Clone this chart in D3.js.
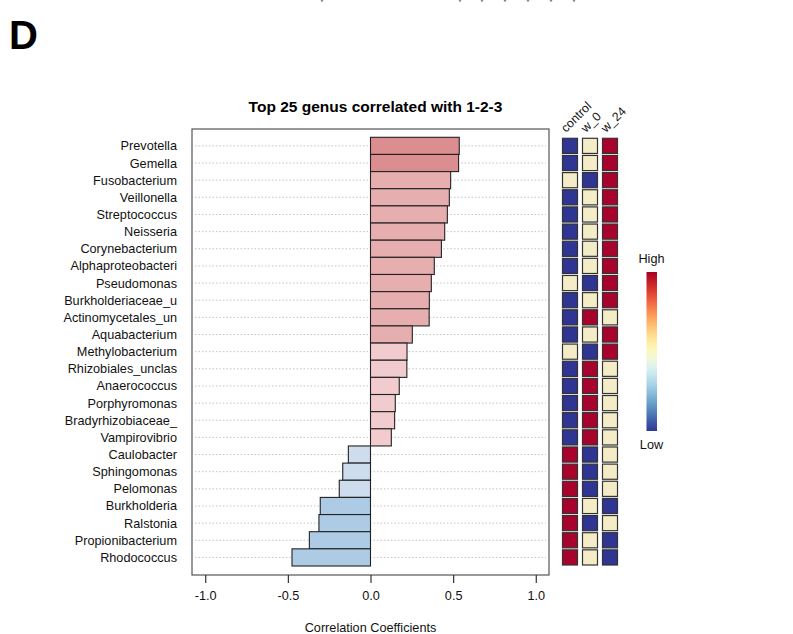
<!DOCTYPE html>
<html><head><meta charset="utf-8">
<script src="https://cdn.jsdelivr.net/npm/d3@7"></script>
<style>body{margin:0;background:#fff;} svg{display:block;font-family:"Liberation Sans",Arial,sans-serif;}</style>
</head><body>
<svg id="c" width="793" height="634"></svg>
<script>
const genera = ["Prevotella","Gemella","Fusobacterium","Veillonella","Streptococcus","Neisseria","Corynebacterium","Alphaproteobacteri","Pseudomonas","Burkholderiaceae_u","Actinomycetales_un","Aquabacterium","Methylobacterium","Rhizobiales_unclas","Anaerococcus","Porphyromonas","Bradyrhizobiaceae_","Vampirovibrio","Caulobacter","Sphingomonas","Pelomonas","Burkholderia","Ralstonia","Propionibacterium","Rhodococcus"];
const correlations = [0.537,0.533,0.485,0.477,0.465,0.449,0.429,0.386,0.368,0.356,0.355,0.253,0.221,0.220,0.174,0.150,0.146,0.126,-0.134,-0.168,-0.189,-0.304,-0.312,-0.370,-0.475];
const groups = ["control","w_0","w_24"];
// 0 = low, 1 = mid, 2 = high
const control = [0,0,1,0,0,0,0,0,1,0,0,0,1,0,0,0,0,0,2,2,2,2,2,2,2];
const w_0     = [1,1,0,1,1,1,1,1,0,1,2,1,0,2,2,2,2,2,0,0,0,1,0,1,1];
const w_24    = [2,2,2,2,2,2,2,2,2,2,1,2,2,1,1,1,1,1,1,1,1,0,1,0,0];
const xTicks = [-1.0,-0.5,0.0,0.5,1.0];
const titleText = "Top 25 genus correlated with 1-2-3";
const xTitle = "Correlation Coefficients";

const svg = d3.select("#c");
const box = {l:192, r:549, t:129, b:575};
const x = d3.scaleLinear().domain([-1.08,1.08]).range([box.l, box.r]);
const y = d3.scaleBand().domain(genera).range([137.3, 566]).padding(0);
const FS = 12.7;

// panel letter
svg.append("text").attr("x",9).attr("y",49).attr("font-size",40).attr("font-weight","bold").text("D");

// clipped fragments of previous panel at top
const frag = [322,460,482,505,528,551,574];
svg.selectAll("circle.frag").data(frag).enter().append("circle")
  .attr("cx",d=>d).attr("cy",0.5).attr("r",1.2).attr("fill","#888");

// title
svg.append("text").attr("x",375.5).attr("y",112).attr("text-anchor","middle")
  .attr("font-size",15.5).attr("font-weight","bold").text(titleText);

// grid lines
svg.append("g").selectAll("line").data(genera).enter().append("line")
  .attr("x1",box.l+3).attr("x2",box.r-3)
  .attr("y1",d=>y(d)+y.bandwidth()/2).attr("y2",d=>y(d)+y.bandwidth()/2)
  .attr("stroke","#c4c4c4").attr("stroke-width",1).attr("stroke-dasharray","1.5,2");

function barColor(v){
  if (v>=0.5) return "#db8d90";
  if (v>=0.25) return "#e7aeb0";
  if (v>=0) return "#f1cbcd";
  if (v>=-0.25) return "#cdddee";
  return "#adcbe5";
}
const data = genera.map((g,i)=>({g, v:correlations[i]}));
svg.append("g").selectAll("rect").data(data).enter().append("rect")
  .attr("x",d=>x(Math.min(0,d.v))).attr("width",d=>Math.abs(x(d.v)-x(0)))
  .attr("y",d=>y(d.g)).attr("height",y.bandwidth())
  .attr("fill",d=>barColor(d.v)).attr("stroke","#222").attr("stroke-width",1.1);

// box
svg.append("rect").attr("x",box.l).attr("y",box.t).attr("width",box.r-box.l).attr("height",box.b-box.t)
  .attr("fill","none").attr("stroke","#555").attr("stroke-width",1.2);

// labels
svg.append("g").selectAll("text").data(genera).enter().append("text")
  .attr("x",177).attr("y",d=>y(d)+y.bandwidth()/2+4.5).attr("text-anchor","end")
  .attr("font-size",FS).attr("fill","#111").text(d=>d);

// x axis
const ax = svg.append("g").attr("transform",`translate(0,${box.b})`)
  .call(d3.axisBottom(x).tickValues(xTicks).tickSize(8).tickPadding(8));
ax.select(".domain").remove();
ax.selectAll("line").attr("stroke","#333").attr("stroke-width",1.2);
ax.selectAll("text").attr("font-size",FS).attr("fill","#111").attr("font-family","Liberation Sans, Arial, sans-serif")
  .text(d=>d3.format(".1f")(d).replace("\u2212","-"));
svg.append("text").attr("x",370.5).attr("y",632).attr("text-anchor","middle").attr("font-size",FS).attr("fill","#111").text(xTitle);

// heatmap
const hx = d3.scaleBand().domain(groups).range([560.5, 619.5]).paddingInner(0.25).paddingOuter(0.1);
const hcol = ["#2e3592","#f4ecc6","#a8032c"];
const cellPad = 1;
const hg = svg.append("g");
groups.forEach((gr,j)=>{
  const vals = [control,w_0,w_24][j];
  hg.selectAll("rect.c"+j).data(genera).enter().append("rect")
    .attr("x",hx(gr)).attr("width",hx.bandwidth())
    .attr("y",(d)=>y(d)+cellPad).attr("height",y.bandwidth()-2*cellPad)
    .attr("fill",(d,i)=>hcol[vals[i]]).attr("stroke","#333").attr("stroke-width",1.2);
  svg.append("text").attr("transform",`translate(${hx(gr)+hx.bandwidth()/2-4},${133}) rotate(-45)`)
    .attr("font-size",12.3).attr("fill","#111").text(gr);
});

// legend gradient
const defs = svg.append("defs");
const grad = defs.append("linearGradient").attr("id","lg").attr("x1",0).attr("y1",1).attr("x2",0).attr("y2",0);
d3.range(0,1.0001,0.05).forEach(t=>grad.append("stop").attr("offset",t).attr("stop-color",d3.interpolateRdYlBu(1-t)));
const ly = d3.scaleLinear().domain([0,1]).range([431,272]);
svg.append("rect").attr("x",646.5).attr("y",ly(1)).attr("width",10.5).attr("height",ly(0)-ly(1)).attr("fill","url(#lg)");
svg.append("text").attr("x",651.5).attr("y",263).attr("text-anchor","middle").attr("font-size",FS).attr("fill","#111").text("High");
svg.append("text").attr("x",651.5).attr("y",449).attr("text-anchor","middle").attr("font-size",FS).attr("fill","#111").text("Low");
</script>
</body></html>
